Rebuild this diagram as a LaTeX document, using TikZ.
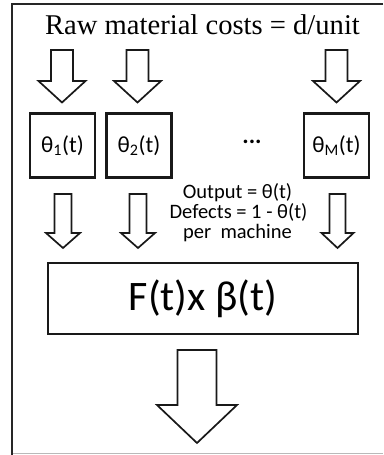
\documentclass[tikz,border=0pt]{standalone}
\usepackage{fontspec}
\setmainfont{Liberation Serif}
\newfontfamily\carl{Carlito}
\newcommand\blockarrow[7]{% name, cx, top, headstart, tip, half shaft, half head
  \coordinate (#1) at (#2,#5);
  \draw[arrowline] (#2-#6,#3) -- (#2+#6,#3) -- (#2+#6,#4) -- (#2+#7,#4) -- (#1)
    -- (#2-#7,#4) -- (#2-#6,#4) -- cycle;}
\begin{document}
\begin{tikzpicture}[x=1pt,y=-1pt,
  arrowline/.style={draw=black!90, line width=1.7pt, line join=miter, fill=white},
  machine/.style={draw=black!90, line width=2.1pt, minimum width=65pt, minimum height=64pt,
    inner sep=0pt, font=\carl\fontsize{23}{23}\selectfont},
  lbl/.style={inner sep=0pt},
  notetext/.style={inner sep=0pt, anchor=base, font=\carl\fontsize{20.5}{20}\selectfont}]
\useasboundingbox (0,0) rectangle (383,455);
% frame
\draw[line width=2.4pt, black!85] (383,4) -- (12,4) -- (12,455);
\draw[line width=1.4pt, gray!55] (13,453.5) -- (383,453.5);
% title
\node[lbl, font=\fontsize{28.6}{30}\selectfont, anchor=base] (title) at (202.5,34) {Raw material costs = d/unit};
% top arrows
\blockarrow{a1}{62}{50}{81}{102.5}{11}{23.5}
\blockarrow{a2}{137.5}{50}{81}{102.5}{11}{23.5}
\blockarrow{a3}{336.5}{50}{81}{102.5}{11}{23.5}
% machines
\node[machine] (m1) at (62.5,145.5) {θ\textsubscript{1}(t)};
\node[machine] (m2) at (139,145.5) {θ\textsubscript{2}(t)};
\node[machine] (m3) at (336.5,145.5) {θ\textsubscript{M}(t)};
\node[lbl, font=\carl\bfseries\fontsize{24}{24}\selectfont] (dots) at (252,142) {...};
% note
\node[notetext] (n1) at (237.5,198) {Output = θ(t)};
\node[notetext] (n2) at (238.5,218) {Defects = 1 - θ(t)};
\node[notetext] (n3) at (237.5,238) {per\ \ machine};
% lower arrows
\blockarrow{b1}{63}{194}{233}{248}{8.5}{17}
\blockarrow{b2}{138}{194}{233}{248}{8.5}{17}
\blockarrow{b3}{337.5}{194}{233}{248}{8}{16}
% combine box
\node[draw=black!90, line width=2.1pt, minimum width=310pt, minimum height=71pt, inner sep=0pt,
  font=\carl\fontsize{42}{42}\selectfont] (F) at (203,298.5) {F(t)x β(t)};
% output arrow
\blockarrow{c}{197}{350}{405}{443}{19.5}{40}
\end{tikzpicture}
\end{document}
